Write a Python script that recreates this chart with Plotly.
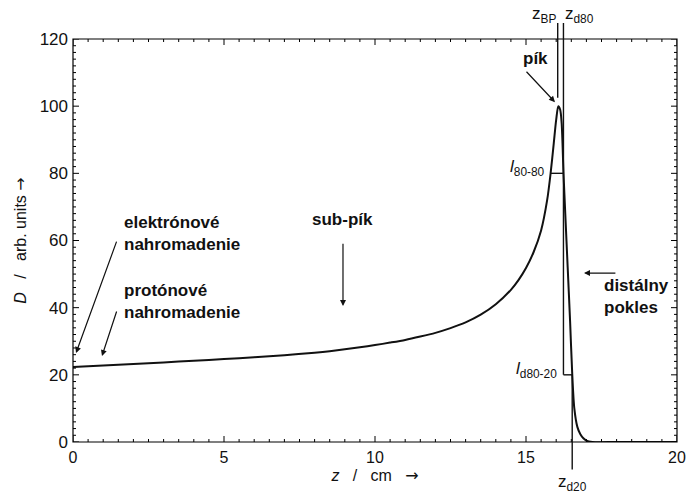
import plotly.graph_objects as go

# Depth-dose curve (Bragg peak)
z_cm = [0, 1, 2, 3, 4, 5, 6, 7, 8, 8.5, 9, 9.5, 10, 10.5, 11, 11.5, 12, 12.5, 13, 13.5,
        14, 14.5, 14.75, 15.0, 15.25, 15.5, 15.7, 15.82, 15.92, 16.0, 16.07, 16.13,
        16.18, 16.24, 16.3, 16.38, 16.46, 16.53, 16.6, 16.7, 16.8, 16.9, 17.0, 17.2,
        18, 19, 20]
dose = [22.3, 22.75, 23.2, 23.7, 24.2, 24.7, 25.25, 25.85, 26.6, 27.05, 27.6, 28.2,
        28.85, 29.6, 30.4, 31.4, 32.5, 33.9, 35.6, 37.9, 41.0, 45.3, 48.2, 51.8, 56.5,
        63.0, 72.0, 80.4, 89.0, 96.0, 100.0, 99.0, 95.0, 80.4, 68.0, 52.0, 36.0, 20.4,
        10.0, 4.5, 2.3, 1.1, 0.4, 0, 0, 0, 0]

x_ticks = [0, 5, 10, 15, 20]
y_ticks = [0, 20, 40, 60, 80, 100, 120]
X_MINOR_STEP = 0.5
Y_MINOR_STEP = 2

# characteristic depths / levels
Z_BP = 16.05
Z_D80 = 16.24
Z_L80 = 15.82
Z_D20 = 16.53
D_80 = 80
D_20 = 20
X_MAX = 20
Y_MAX = 120

BLACK = "#111111"
FONT = "Liberation Sans, Arial, sans-serif"
ARROW = '<span style="font-family:DejaVu Sans">→</span>'

fig = go.Figure()
fig.add_trace(go.Scatter(x=z_cm, y=dose, mode="lines",
                         line=dict(color=BLACK, width=2, shape="spline", smoothing=0.8),
                         showlegend=False, hoverinfo="skip"))

axis_common = dict(showline=False, ticks="inside", ticklen=6, tickcolor="rgba(0,0,0,0)",
                   showgrid=False, zeroline=False, ticklabelstandoff=4)

fig.update_xaxes(range=[0, X_MAX], tickvals=x_ticks, **axis_common,
                 tickfont=dict(family=FONT, size=16, color=BLACK),
                 title=dict(text="<i>z</i>   /   cm   " + ARROW,
                            font=dict(family=FONT, size=16, color=BLACK), standoff=4))
fig.update_yaxes(range=[0, Y_MAX], tickvals=y_ticks, **axis_common,
                 tickfont=dict(family=FONT, size=17, color=BLACK),
                 title=dict(text="<i>D</i>   /   arb. units " + ARROW,
                            font=dict(family=FONT, size=16, color=BLACK), standoff=9))

# frame and inside ticks on all four sides (drawn as shapes on the axes' scales)
tick_style = dict(color="black", width=1)
shapes = [dict(type="rect", xref="x domain", yref="y domain", x0=0, x1=1, y0=0, y1=1,
               line=dict(color="black", width=1.2), layer="above")]
n_xm = int(round(X_MAX / X_MINOR_STEP))
for i in range(n_xm + 1):
    v = i * X_MINOR_STEP
    ln = 6 if v in x_ticks else 3
    for anchor, sign in ((0, 1), (1, -1)):
        shapes.append(dict(type="line", xref="x", yref="y domain", ysizemode="pixel",
                           yanchor=anchor, x0=v, x1=v, y0=0, y1=sign * ln,
                           line=tick_style, layer="above"))
n_ym = int(round(Y_MAX / Y_MINOR_STEP))
for i in range(n_ym + 1):
    v = i * Y_MINOR_STEP
    ln = 6 if v in y_ticks else 3
    for anchor, sign in ((0, 1), (1, -1)):
        shapes.append(dict(type="line", yref="y", xref="x domain", xsizemode="pixel",
                           xanchor=anchor, y0=v, y1=v, x0=0, x1=sign * ln,
                           line=tick_style, layer="above"))

line_style = dict(color=BLACK, width=1.4)
shapes += [
    dict(type="line", xref="x", yref="y domain", x0=Z_BP, x1=Z_BP, y0=102.5 / Y_MAX, y1=1.04, line=line_style),
    dict(type="line", xref="x", yref="y domain", x0=Z_D80, x1=Z_D80, y0=D_20 / Y_MAX, y1=1.04, line=line_style),
    dict(type="line", xref="x", yref="y", x0=Z_D80, x1=Z_D20, y0=D_20, y1=D_20, line=line_style),
    dict(type="line", xref="x", yref="y domain", x0=Z_D20, x1=Z_D20, y0=-0.068, y1=D_20 / Y_MAX, line=line_style),
    dict(type="line", xref="x", yref="y", x0=Z_L80, x1=Z_D80, y0=D_80, y1=D_80, line=line_style),
]
fig.update_layout(shapes=shapes)

bold = dict(family=FONT, size=17, color=BLACK)
plain = dict(family=FONT, size=17, color=BLACK)
ann = []
# labels with arrows
arrow = dict(showarrow=True, arrowhead=2, arrowsize=1, arrowwidth=1.2, arrowcolor=BLACK,
             axref="x", ayref="y", text="", standoff=0)
ann.append(dict(x=0.1, y=26.5, ax=1.46, ay=60.1, **arrow))
ann.append(dict(x=0.96, y=25.6, ax=1.46, ay=39.3, **arrow))
ann.append(dict(x=8.94, y=40.5, ax=8.94, ay=59.5, **arrow))
ann.append(dict(x=15.96, y=101.2, ax=14.97, ay=110.7, **arrow))
ann.append(dict(x=16.92, y=50.3, ax=18.01, ay=50.3, **arrow))

ann.append(dict(x=1.62, y=62.2, text="<b>elektrónové<br>nahromadenie</b>", showarrow=False,
                xanchor="left", yanchor="middle", align="left", font=bold))
ann.append(dict(x=1.62, y=41.7, text="<b>protónové<br>nahromadenie</b>", showarrow=False,
                xanchor="left", yanchor="middle", align="left", font=bold))
ann.append(dict(x=8.94, y=66.4, text="<b>sub-pík</b>", showarrow=False, font=bold))
ann.append(dict(x=15.33, y=114.3, text="<b>pík</b>", showarrow=False, font=bold))
ann.append(dict(x=17.52, y=43.2, text="<b>distálny<br>pokles</b>", showarrow=False,
                xanchor="left", yanchor="middle", align="left", font=bold))

ann.append(dict(x=Z_L80, y=D_80 + 1.5, text="<i>l</i><sub>80-80</sub>", showarrow=False,
                xanchor="right", xshift=-4, font=plain))
ann.append(dict(x=Z_D80, y=D_20 + 1.5, text="<i>l</i><sub>d80-20</sub>", showarrow=False,
                xanchor="right", xshift=-4, font=plain))
ann.append(dict(x=Z_BP, y=1.0, yref="y domain", text="z<sub>BP</sub>", showarrow=False,
                xanchor="right", yanchor="bottom", yshift=11, font=plain))
ann.append(dict(x=Z_D80, y=1.0, yref="y domain", text="z<sub>d80</sub>", showarrow=False,
                xanchor="left", yanchor="bottom", yshift=11, font=plain))
ann.append(dict(x=Z_D20, y=0.0, yref="y domain", text="z<sub>d20</sub>", showarrow=False,
                xanchor="center", yanchor="top", yshift=-28, font=plain))
fig.update_layout(annotations=ann)

fig.update_layout(width=697, height=493, margin=dict(l=73, r=20, t=39, b=51),
                  paper_bgcolor="white", plot_bgcolor="white",
                  font=dict(family=FONT, color=BLACK))

post = "document.body.style.margin='0';document.body.style.overflow='hidden';"
fig.write_html("out.html", config={"displayModeBar": False}, post_script=post)
